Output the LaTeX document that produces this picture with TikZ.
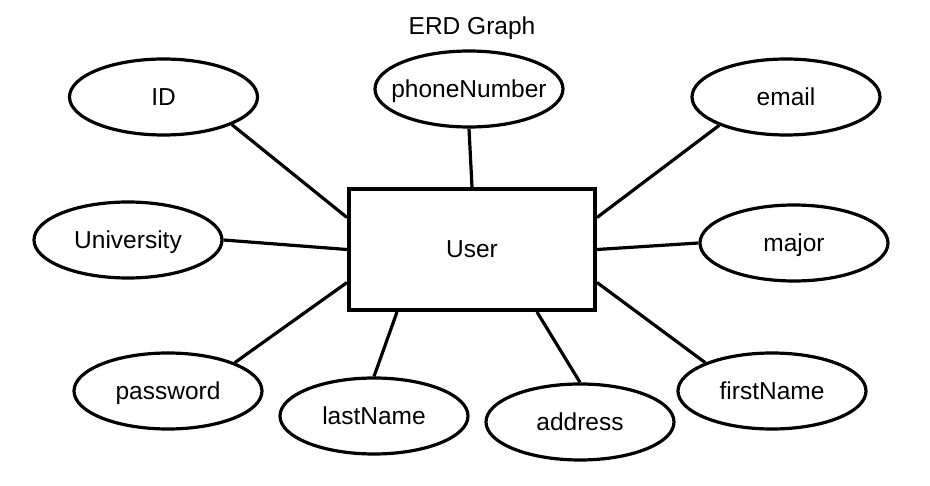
\documentclass[tikz,border=0pt]{standalone}
\usepackage{fontspec}
\setmainfont{Liberation Sans}
\usetikzlibrary{shapes.geometric}

\begin{document}
\begin{tikzpicture}[
  x=1pt, y=-1pt,
  every node/.style={font=\fontsize{24.5}{29}\selectfont, text height=22.2pt, text depth=5.2pt},
  entity/.style={
    draw=black, line width=4pt,
    minimum width=246pt, minimum height=121pt, inner sep=0pt
  },
  attr/.style={
    ellipse, draw=black, line width=3.2pt,
    minimum width=188pt, minimum height=76pt, inner sep=0pt
  },
  link/.style={line width=3.2pt}
]
  \useasboundingbox (0,0) rectangle (930,486);

  % Title
  \node[anchor=base, text height=, text depth=] (title) at (472,35) {ERD Graph};

  % Entity
  \node[entity] (user) at (472,249.5) {User};

  % Attributes
  \node[attr] (id) at (163.5,97) {ID};
  \node[attr, inner xsep=-30pt] (phone) at (469,89) {phoneNumber};
  \node[attr] (email) at (786,97) {email};
  \node[attr] (univ) at (128,240) {University};
  \node[attr] (major) at (794,243) {major};
  \node[attr] (pass) at (168,391) {password};
  \node[attr] (last) at (374,416) {lastName};
  \node[attr] (addr) at (580,422) {address};
  \node[attr] (first) at (772,391) {firstName};

  % Links
  \draw[link] (id.-22) -- ([yshift=32pt]user.west);
  \draw[link] (phone.south) -- (user.north);
  \draw[link] (email.-157) -- ([yshift=32pt]user.east);
  \draw[link] (univ.east) -- (user.west);
  \draw[link] (major.west) -- (user.east);
  \draw[link] (pass.23) -- ([yshift=-33pt]user.west);
  \draw[link] (last.north) -- ([xshift=-75pt]user.south);
  \draw[link] (addr.north) -- ([xshift=65pt]user.south);
  \draw[link] (first.157) -- ([yshift=-33pt]user.east);
\end{tikzpicture}
\end{document}
